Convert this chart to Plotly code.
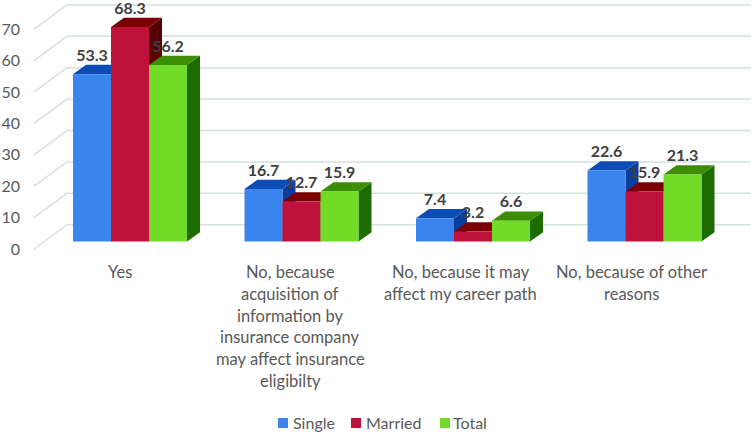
import plotly.graph_objects as go

categories = [
    ["Yes"],
    ["No, because", "acquisition of", "information by", "insurance company", "may affect insurance", "eligibilty"],
    ["No, because it may", "affect my career path"],
    ["No, because of other", "reasons"],
]
single = [53.3, 16.7, 7.4, 22.6]
married = [68.3, 12.7, 3.2, 15.9]
total = [56.2, 15.9, 6.6, 21.3]
y_ticks = [0, 10, 20, 30, 40, 50, 60, 70]

series = [
    ("Single", single, "#3A84EE", "#0C4CB4", "#0A3E9E"),
    ("Married", married, "#BE123C", "#7A0004", "#560006"),
    ("Total", total, "#72DB25", "#3B8E05", "#1C6C00"),
]

# pixel scales of the picture
W, H = 754, 432
LEFT, BOTTOM = 21, 260
X0, X_STEP = 130, 171.5      # centre of first group, group spacing
Y_STEP = 3.14                # px per unit
FLOOR_Y, BAR_Y = 249, 241.5  # px of value 0 on floor front edge / on bar front
BAR_W = 38 / X_STEP
DX, DY = 13 / X_STEP, 9.3 / Y_STEP    # bar depth
WALL_DX, WALL_DY = 33 / X_STEP, 24.3 / Y_STEP   # floor depth
FLOOR_LEFT = (34 - X0) / X_STEP
WALL_RIGHT = (751 - X0) / X_STEP
LIFT = (FLOOR_Y - BAR_Y) / Y_STEP
LABEL_X0, LABEL_STEP = 119.5, 170.7   # px centres of the category labels
FONT = "Lato"
TEXT = "#595959"

fig = go.Figure()

# wall gridlines and the diagonal floor lines
for v in y_ticks:
    fig.add_trace(go.Scatter(
        x=[FLOOR_LEFT, FLOOR_LEFT + WALL_DX, WALL_RIGHT],
        y=[v, v + WALL_DY, v + WALL_DY],
        mode="lines", line=dict(color="#D6DFE0", width=1.5),
        showlegend=False, hoverinfo="skip",
    ))

# side and top faces, blue to green so they overlap the right way
for s, (name, values, front, top, side) in enumerate(series):
    for i, v in enumerate(values):
        x1 = i + (s - 1.5) * BAR_W
        x2 = x1 + BAR_W
        y = v + LIFT
        fig.add_trace(go.Scatter(
            x=[x2, x2 + DX, x2 + DX, x2, x2],
            y=[LIFT, LIFT + DY, y + DY, y, LIFT],
            mode="lines", fill="toself", fillcolor=side, line=dict(width=0),
            showlegend=False, hoverinfo="skip",
        ))
        fig.add_trace(go.Scatter(
            x=[x1, x1 + DX, x2 + DX, x2, x1],
            y=[y, y + DY, y + DY, y, y],
            mode="lines", fill="toself", fillcolor=top, line=dict(width=0),
            showlegend=False, hoverinfo="skip",
        ))

# front faces on the overlay axis, above all the polygons
xs = list(range(len(categories)))
for name, values, front, top, side in series:
    fig.add_trace(go.Bar(
        x=xs, y=values, name=name, marker=dict(color=front, line=dict(width=0)),
        yaxis="y2", showlegend=False,
    ))

for s, (name, values, front, top, side) in enumerate(series):
    fig.add_trace(go.Scatter(
        x=[i + (s - 1) * BAR_W for i in xs],
        y=[v + DY for v in values],
        text=[f"{v:.1f}" for v in values],
        mode="text", textposition="top center", cliponaxis=False,
        textfont=dict(family=FONT, size=16, color="#404040", weight=700),
        yaxis="y2", showlegend=False, hoverinfo="skip",
    ))

annotations = []
for i, lines in enumerate(categories):
    for n, line in enumerate(lines):
        x = (LABEL_X0 + i * LABEL_STEP - X0) / X_STEP
        annotations.append(dict(
            x=x, y=0, xref="x", yref="paper", text=line, showarrow=False,
            xanchor="center", yanchor="middle", yshift=-(12 + n * 21.8),
            font=dict(family=FONT, size=16.5, color=TEXT),
        ))

# legend drawn by hand, the native one keeps too wide a gap after the swatch
legend_x = [278, 351, 440]
legend_text_x = [291, 364, 451]
shapes = []
for (name, values, front, top, side), lx, tx in zip(series, legend_x, legend_text_x):
    shapes.append(dict(
        type="rect", xref="x", yref="paper",
        x0=(lx - X0) / X_STEP, x1=(lx + 10 - X0) / X_STEP,
        y0=-(418 - BOTTOM) / BOTTOM, y1=-(428 - BOTTOM) / BOTTOM,
        fillcolor=front, line=dict(width=0),
    ))
    annotations.append(dict(
        x=(tx - X0) / X_STEP, y=-(422 - BOTTOM) / BOTTOM, xref="x", yref="paper",
        text=name, showarrow=False, xanchor="left", yanchor="middle",
        font=dict(family=FONT, size=16, color=TEXT),
    ))

fig.update_layout(
    width=W, height=H,
    margin=dict(l=LEFT, r=0, t=0, b=H - BOTTOM),
    paper_bgcolor="white", plot_bgcolor="white",
    barmode="group", bargap=1 - 3 * BAR_W, bargroupgap=0,
    font=dict(family=FONT, size=16, color=TEXT),
    showlegend=False,
    xaxis=dict(range=[(LEFT - X0) / X_STEP, (W - X0) / X_STEP], visible=False, fixedrange=True, automargin=False),
    yaxis=dict(
        range=[(FLOOR_Y - BOTTOM) / Y_STEP, FLOOR_Y / Y_STEP],
        tickvals=y_ticks, showgrid=False, zeroline=False, showline=False, ticks="",
        tickfont=dict(family=FONT, size=16, color=TEXT), automargin=False,
    ),
    yaxis2=dict(
        range=[(BAR_Y - BOTTOM) / Y_STEP, BAR_Y / Y_STEP],
        overlaying="y", side="left", visible=False, automargin=False,
    ),
    annotations=annotations,
    shapes=shapes,
)

fig.write_html("out.html", config=dict(displayModeBar=False),
               post_script="document.body.style.margin='0';")
